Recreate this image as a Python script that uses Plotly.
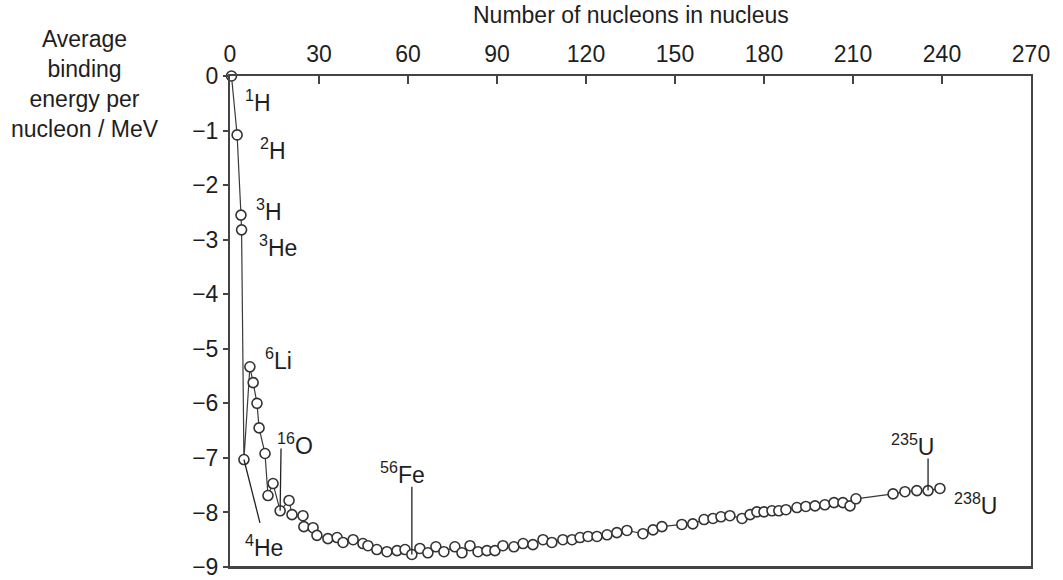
import plotly.graph_objects as go

# Number of nucleons (A) and average binding energy per nucleon (MeV)
nucleons = [0.5, 2.4, 3.7, 3.9, 4.7, 6.7, 7.8, 9.1, 9.8, 11.8, 12.8, 14.5, 16.9, 19.9, 20.9,
            24.6, 24.9, 28.0, 29.3, 33.0, 36.1, 38.1, 41.5, 44.8, 46.5, 49.5, 52.9, 56.3, 59.0,
            61.3, 64.0, 66.7, 69.4, 72.1, 75.8, 78.2, 80.9, 83.6, 86.6, 89.3, 92.0, 95.7, 98.8,
            102.1, 105.5, 108.5, 112.2, 115.3, 118.0, 120.7, 123.7, 127.1, 130.4, 133.8, 139.2,
            142.6, 145.6, 152.3, 156.0, 159.8, 162.8, 165.5, 168.5, 172.6, 175.3, 177.6, 180.0,
            182.7, 185.0, 187.4, 191.1, 194.1, 197.2, 200.5, 203.6, 206.6, 209.0, 211.0, 223.5,
            227.5, 231.5, 235.3, 239.3]
energy = [0.0, -1.08, -2.55, -2.82, -7.03, -5.33, -5.62, -6.0, -6.45, -6.92, -7.69, -7.47, -7.97,
          -7.78, -8.04, -8.06, -8.26, -8.28, -8.42, -8.48, -8.46, -8.55, -8.50, -8.57, -8.61,
          -8.68, -8.72, -8.70, -8.68, -8.77, -8.66, -8.74, -8.63, -8.72, -8.63, -8.74, -8.61,
          -8.72, -8.70, -8.70, -8.61, -8.63, -8.57, -8.59, -8.50, -8.55, -8.50, -8.50, -8.46,
          -8.44, -8.44, -8.41, -8.37, -8.33, -8.39, -8.32, -8.26, -8.22, -8.21, -8.13, -8.11,
          -8.08, -8.06, -8.11, -8.04, -7.99, -7.99, -7.97, -7.97, -7.95, -7.91, -7.89, -7.88,
          -7.86, -7.82, -7.82, -7.88, -7.75, -7.66, -7.62, -7.60, -7.60, -7.56]

x_ticks = [0, 30, 60, 90, 120, 150, 180, 210, 240, 270]
y_ticks = [0, -1, -2, -3, -4, -5, -6, -7, -8, -9]
y_tick_text = ["0", "\u22121", "\u22122", "\u22123", "\u22124", "\u22125", "\u22126", "\u22127", "\u22128", "\u22129"]

# isotope labels: text, x, y (label centre)
iso_text = ["<sup>1</sup>H", "<sup>2</sup>H", "<sup>3</sup>H", "<sup>3</sup>He", "<sup>6</sup>Li",
            "<sup>16</sup>O", "<sup>4</sup>He", "<sup>56</sup>Fe", "<sup>235</sup>U", "<sup>238</sup>U"]
iso_x = [9.5, 14.5, 13.1, 16.2, 16.2, 21.9, 11.5, 58.3, 230.2, 251.4]
iso_y = [-0.46, -1.34, -2.45, -3.11, -5.18, -6.74, -8.61, -7.27, -6.76, -7.84]

FONT = "Liberation Sans, Arial, sans-serif"
INK = "#1e1e1e"
AXIS = "#444444"
FS = 23

fig = go.Figure()
fig.add_trace(go.Scatter(
    x=nucleons, y=energy, mode="lines+markers",
    line=dict(color="#3a3a3a", width=1.2),
    marker=dict(symbol="circle", size=10, color="white", line=dict(color="#333333", width=1.6)),
    cliponaxis=False, showlegend=False, hoverinfo="x+y"))

for t, x, y in zip(iso_text, iso_x, iso_y):
    fig.add_annotation(x=x, y=y, text=t, showarrow=False, xanchor="center", yanchor="middle",
                       font=dict(family=FONT, size=FS, color=INK))

# leader lines, from the labelled data point toward its label
def leader(i, x1, y1):
    fig.add_shape(type="line", x0=nucleons[i], y0=energy[i], x1=x1, y1=y1,
                  line=dict(color="#222222", width=1.3), layer="above")

leader(4, 10.1, -8.19)      # 4He
leader(12, 17.2, -6.83)     # 16O
leader(29, 61.3, -7.53)     # 56Fe
leader(81, 235.3, -7.01)    # 235U

# bottom edge of the frame
fig.add_shape(type="line", xref="paper", yref="paper", x0=0, x1=1, y0=0, y1=0,
              line=dict(color=AXIS, width=2), layer="above")

fig.add_annotation(xref="paper", yref="paper", x=0.5, y=1, yshift=46, xanchor="center",
                   yanchor="bottom", showarrow=False, text="Number of nucleons in nucleus",
                   font=dict(family=FONT, size=FS, color=INK))
fig.add_annotation(xref="paper", yref="paper", x=0, xshift=-145, y=1, yshift=52,
                   xanchor="center", yanchor="top", showarrow=False, align="center",
                   text="Average<br>binding<br>energy per<br>nucleon / MeV",
                   font=dict(family=FONT, size=FS, color=INK))

fig.update_layout(
    template="none",
    width=1063, height=580,
    margin=dict(l=230, r=32, t=76, b=13, pad=0),
    paper_bgcolor="white", plot_bgcolor="white",
    font=dict(family=FONT, size=FS, color=INK),
    xaxis=dict(range=[0, 270], side="top", tickmode="array", tickvals=x_ticks,
               ticks="inside", ticklen=8, tickwidth=1.5, tickcolor=AXIS,
               showline=True, linecolor=AXIS, linewidth=2, mirror=True,
               showgrid=False, zeroline=False, ticklabelstandoff=3, automargin=False,
               ticklabeloverflow="allow",
               tickfont=dict(family=FONT, size=FS, color=INK)),
    yaxis=dict(range=[-9, 0], tickmode="array", tickvals=y_ticks, ticktext=y_tick_text,
               ticks="outside", ticklen=5, tickwidth=1.5, tickcolor=AXIS,
               showline=True, linecolor=AXIS, linewidth=2, mirror=True,
               showgrid=False, zeroline=False, automargin=False,
               ticklabeloverflow="allow",
               tickfont=dict(family=FONT, size=FS, color=INK)),
)

fig.write_html("out.html", config={"displayModeBar": False},
               post_script="document.body.style.margin='0px';")
